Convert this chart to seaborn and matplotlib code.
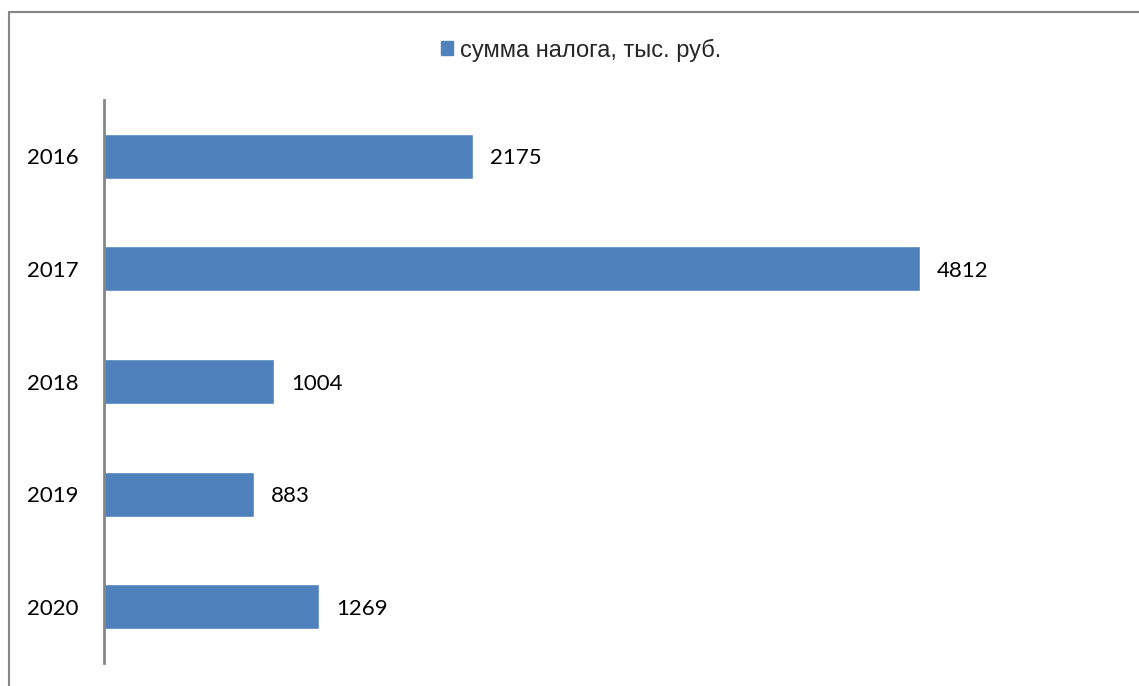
import matplotlib
matplotlib.use('Agg')
import matplotlib.pyplot as plt
import matplotlib.patches as mpatches
import seaborn as sns
import pandas as pd

# data
years = ['2016', '2017', '2018', '2019', '2020']
tax_sum = [2175, 4812, 1004, 883, 1269]
series_name = 'сумма налога, тыс. руб.'

df = pd.DataFrame({'year': years, 'sum': tax_sum})

sns.set_theme(style='white')
plt.rcParams['font.family'] = ['Lato', 'DejaVu Sans']

W, H = 1139, 686
fig = plt.figure(figsize=(W / 100, H / 100), dpi=100)
ax = fig.add_axes([104 / W, 1 - 663 / H, (1122 - 104) / W, (663 - 100) / H])

bar_color = '#4F81BD'
sns.barplot(data=df, x='sum', y='year', orient='h', color=bar_color,
            width=0.4, saturation=1, ax=ax)

ax.set_xlim(0, 6000)
ax.set_ylim(4.5, -0.5)
ax.set_xlabel('')
ax.set_ylabel('')
ax.set_xticks([])
for s in ['top', 'right', 'bottom']:
    ax.spines[s].set_visible(False)
ax.spines['left'].set_color('#868686')
ax.spines['left'].set_linewidth(2)
ax.tick_params(axis='y', length=0, pad=18, labelsize=16, labelcolor='black')
for t in ax.get_yticklabels():
    t.set_va('center_baseline')

for c in ax.containers:
    lbls = ax.bar_label(c, labels=[str(v) for v in tax_sum], padding=12,
                        fontsize=16, color='black')
    for t in lbls:
        t.set_va('center_baseline')

handle = mpatches.Patch(color=bar_color, label=series_name)
fig.legend(handles=[handle], loc='center', bbox_to_anchor=(0.51, 1 - 50 / H),
           frameon=False, handlelength=0.5, handleheight=0.5,
           handletextpad=0.3, prop={'family': 'Liberation Sans', 'size': 17})

# chart area border (runs off the bottom/right of the image)
border = mpatches.Rectangle((8.5 / W, -0.1), 1.2, 1 - 12.5 / H + 0.1,
                            transform=fig.transFigure, fill=False,
                            edgecolor='#868686', linewidth=1.5, clip_on=False)
fig.patches.append(border)

fig.savefig('out.png', dpi=100)
